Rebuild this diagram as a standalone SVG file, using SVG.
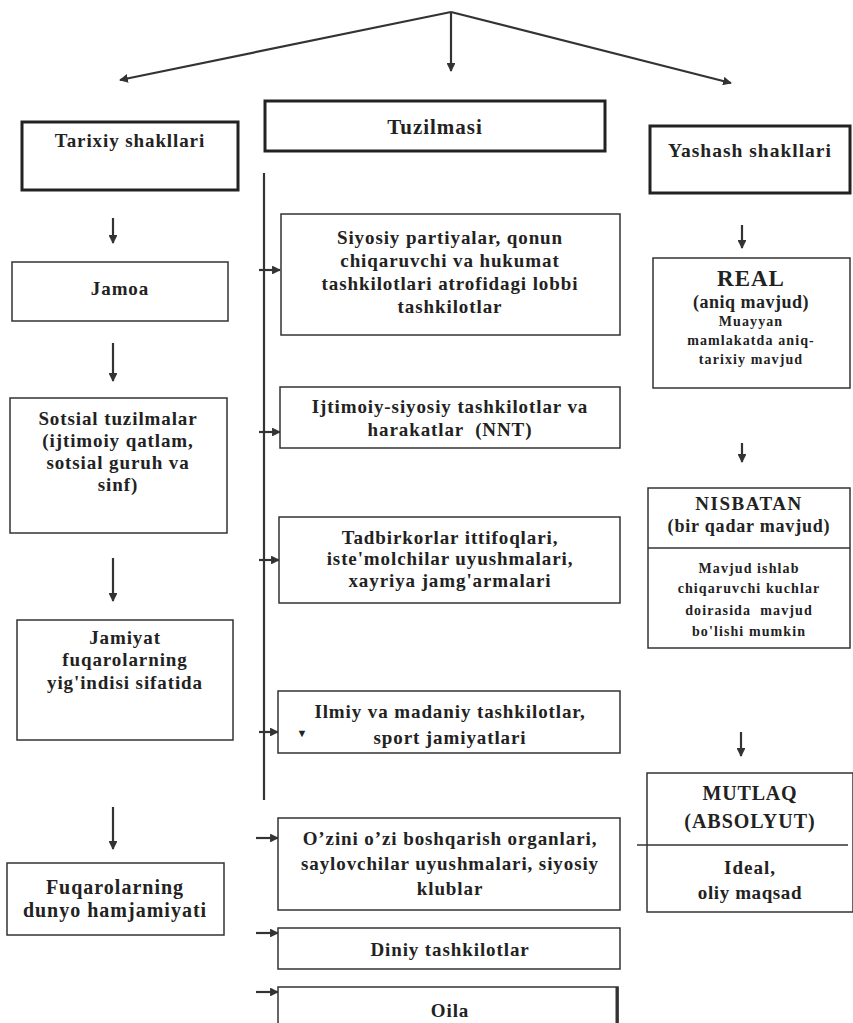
<svg xmlns="http://www.w3.org/2000/svg" width="853" height="1023" viewBox="0 0 853 1023">
<style>
text{font-family:"Liberation Serif","Times New Roman",serif;font-weight:bold;fill:#222;text-anchor:middle;dominant-baseline:central}
.b{fill:#fff;stroke:#333;stroke-width:1.5}
.h{fill:#fff;stroke:#222;stroke-width:3}
.l{stroke:#333;stroke-width:2.2;fill:none}
.t{font-size:19px;letter-spacing:0.9px}
.w{font-size:20px;letter-spacing:1px}
.s{font-size:14px;letter-spacing:1.1px}
</style>
<defs>
<marker id="ah" viewBox="0 0 10 10" refX="9" refY="5" markerWidth="4" markerHeight="4" orient="auto"><path d="M0,0L10,5L0,10z" fill="#333"/></marker>
</defs>
<rect width="853" height="1023" fill="#fff"/>
<g id="connectors">
<path class="l" d="M451,12L120,80" marker-end="url(#ah)"/>
<path class="l" d="M451,12L731,83" marker-end="url(#ah)"/>
<path class="l" d="M451,12V71" marker-end="url(#ah)"/>
<path class="l" d="M264,173V800" stroke-width="3"/>
<path class="l" d="M113,218V243" marker-end="url(#ah)"/>
<path class="l" d="M113,343V381" marker-end="url(#ah)"/>
<path class="l" d="M113,558V601" marker-end="url(#ah)"/>
<path class="l" d="M113,807V849" marker-end="url(#ah)"/>
<path class="l" d="M742,225V248" marker-end="url(#ah)"/>
<path class="l" d="M742,443V462" marker-end="url(#ah)"/>
<path class="l" d="M741,732V756" marker-end="url(#ah)"/>
<path class="l" d="M259,270H280" marker-end="url(#ah)"/>
<path class="l" d="M259,432H280" marker-end="url(#ah)"/>
<path class="l" d="M259,560H279" marker-end="url(#ah)"/>
<path class="l" d="M259,732H278" marker-end="url(#ah)"/>
<path class="l" d="M256,838H278" marker-end="url(#ah)"/>
<path class="l" d="M256,933H278" marker-end="url(#ah)"/>
<path class="l" d="M256,992H278" marker-end="url(#ah)"/>
</g>
<g id="tarixiy"><rect class="h" x="22" y="122" width="216" height="68"/><text class="t" x="130" y="140">Tarixiy shakllari</text></g>
<g id="tuzilmasi"><rect class="h" x="265" y="101" width="340" height="50"/><text x="435" y="127" font-size="21" letter-spacing="1">Tuzilmasi</text></g>
<g id="yashash"><rect class="h" x="650" y="126" width="200" height="67"/><text x="750" y="150" font-size="19.5" letter-spacing="1">Yashash shakllari</text></g>
<g id="jamoa"><rect class="b" x="12" y="262" width="216" height="59"/><text class="t" x="120" y="288" letter-spacing="1.4">Jamoa</text></g>
<g id="sotsial"><rect class="b" x="10" y="398" width="217" height="135"/><text class="t" x="118" y="418">Sotsial tuzilmalar</text><text class="t" x="118" y="440">(ijtimoiy qatlam,</text><text class="t" x="118" y="462">sotsial guruh va</text><text class="t" x="118" y="484">sinf)</text></g>
<g id="jamiyat"><rect class="b" x="17" y="620" width="216" height="120"/><text class="t" x="125" y="637">Jamiyat</text><text class="t" x="125" y="659">fuqarolarning</text><text class="t" x="125" y="682">yig'indisi sifatida</text></g>
<g id="fuqarolar"><rect class="b" x="7" y="863" width="217" height="72"/><text class="w" x="115" y="887">Fuqarolarning</text><text class="w" x="115" y="910">dunyo hamjamiyati</text></g>
<g id="siyosiy"><rect class="b" x="281" y="214" width="339" height="121"/><text class="t" x="450" y="237">Siyosiy partiyalar, qonun</text><text class="t" x="450" y="260">chiqaruvchi va hukumat</text><text class="t" x="450" y="283">tashkilotlari atrofidagi lobbi</text><text class="t" x="450" y="306">tashkilotlar</text></g>
<g id="ijtimoiy"><rect class="b" x="280" y="387" width="340" height="61"/><text class="t" x="450" y="406">Ijtimoiy-siyosiy tashkilotlar va</text><text class="t" x="450" y="429" xml:space="preserve">harakatlar  (NNT)</text></g>
<g id="tadbirkor"><rect class="b" x="279" y="517" width="341" height="86"/><text class="t" x="450" y="537">Tadbirkorlar ittifoqlari,</text><text class="t" x="450" y="558">iste'molchilar uyushmalari,</text><text class="t" x="450" y="580">xayriya jamg'armalari</text></g>
<g id="ilmiy"><rect class="b" x="278" y="691" width="342" height="62"/><text class="t" x="450" y="711">Ilmiy va madaniy tashkilotlar,</text><text class="t" x="450" y="737">sport jamiyatlari</text><text x="302" y="733" font-size="11">▼</text></g>
<g id="ozini"><rect class="b" x="278" y="818" width="342" height="92"/><text class="t" x="450" y="838">O’zini o’zi boshqarish organlari,</text><text class="t" x="450" y="863">saylovchilar uyushmalari, siyosiy</text><text class="t" x="450" y="888">klublar</text></g>
<g id="diniy"><rect class="b" x="278" y="928" width="342" height="41"/><text class="t" x="450" y="949">Diniy tashkilotlar</text></g>
<g id="oila"><rect class="b" x="278" y="987" width="340" height="50"/><path d="M617,987V1023" stroke="#333" stroke-width="3"/><text class="t" x="450" y="1010">Oila</text></g>
<g id="real"><rect class="b" x="653" y="258" width="197" height="130"/><text x="751" y="278" font-size="23" letter-spacing="1">REAL</text><text x="751" y="302" font-size="18" letter-spacing="0.5">(aniq mavjud)</text><text class="s" x="751" y="321">Muayyan</text><text class="s" x="751" y="340">mamlakatda aniq-</text><text class="s" x="751" y="359">tarixiy mavjud</text></g>
<g id="nisbatan"><rect class="b" x="648" y="488" width="202" height="160"/><path d="M648,548H850" stroke="#333" stroke-width="1.5"/><text x="749" y="503" font-size="19" letter-spacing="1.5">NISBATAN</text><text x="749" y="526" font-size="18" letter-spacing="0.8">(bir qadar mavjud)</text><text class="s" x="749" y="568">Mavjud ishlab</text><text class="s" x="749" y="588">chiqaruvchi kuchlar</text><text class="s" x="749" y="610" xml:space="preserve">doirasida  mavjud</text><text class="s" x="749" y="631">bo'lishi mumkin</text></g>
<g id="mutlaq"><rect class="b" x="647" y="773" width="206" height="139"/><path d="M637,845H848" stroke="#333" stroke-width="1.5"/><text x="750" y="793" font-size="20" letter-spacing="0.8">MUTLAQ</text><text x="750" y="821" font-size="20" letter-spacing="1">(ABSOLYUT)</text><text x="750" y="867" font-size="19" letter-spacing="1">Ideal,</text><text x="750" y="892" font-size="19" letter-spacing="0.6">oliy maqsad</text></g>
</svg>
